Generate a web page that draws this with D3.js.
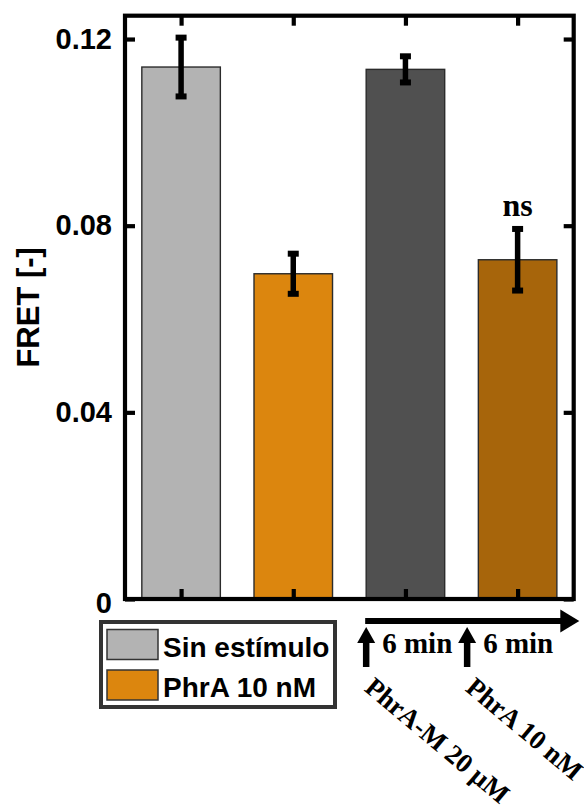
<!DOCTYPE html>
<html>
<head>
<meta charset="utf-8">
<script src="https://cdn.jsdelivr.net/npm/d3@7"></script>
<style>
  html, body { margin: 0; padding: 0; background: #fff; }
  svg { display: block; }
</style>
</head>
<body>
<svg id="chart" width="584" height="807"></svg>
<script>
// FRET readout per condition (mean ± error)
const conditions = ["Sin estímulo", "PhrA 10 nM", "PhrA-M 20 μM", "PhrA-M 20 μM + PhrA 10 nM"];
const fretMean = [0.1140, 0.0697, 0.1135, 0.0727];
const fretErr = [0.0063, 0.0043, 0.0028, 0.0066];
const barColors = ["#b3b3b3", "#dc860e", "#505050", "#a7650b"];
const significance = ["", "", "", "ns"];

const yTicks = [0, 0.04, 0.08, 0.12];
const yTickLabels = ["0", "0.04", "0.08", "0.12"];

const legendLabels = ["Sin estímulo", "PhrA 10 nM"];
const legendColors = ["#b3b3b3", "#dc860e"];

// stimulation timeline below the axis (positions in bar units)
const stimPositions = [2.65, 3.55];
const stimLabels = ["PhrA-M 20 μM", "PhrA 10 nM"];
const intervalLabels = ["6 min", "6 min"];
const timelineEnd = 4.55;

const svg = d3.select("#chart");

const x = d3.scaleLinear().domain([0.5, 4.5]).range([125, 573.7]);
const y = d3.scaleLinear().domain([0, 0.125]).range([599, 15.7]);
const barW = x(0.7) - x(0);

const sans = "'Liberation Sans', Arial, sans-serif";
const serif = "'Liberation Serif', 'Times New Roman', serif";

// bars
svg.append("g").selectAll("rect")
  .data(fretMean)
  .join("rect")
  .attr("x", (d, i) => x(i + 1) - barW / 2)
  .attr("y", d => y(d))
  .attr("width", barW)
  .attr("height", d => y(0) - y(d))
  .attr("fill", (d, i) => barColors[i])
  .attr("stroke", "#2b2b2b")
  .attr("stroke-width", 1.4);

// error bars
const eb = svg.append("g").attr("stroke", "#000");
fretMean.forEach((m, i) => {
  const cx = x(i + 1);
  const lo = y(m - fretErr[i]), hi = y(m + fretErr[i]);
  eb.append("line").attr("x1", cx).attr("x2", cx).attr("y1", lo).attr("y2", hi).attr("stroke-width", 5.5);
  [lo, hi].forEach(v => {
    eb.append("line").attr("x1", cx - 5.5).attr("x2", cx + 5.5).attr("y1", v).attr("y2", v).attr("stroke-width", 6);
  });
});

// significance labels
svg.append("g").selectAll("text")
  .data(fretMean)
  .join("text")
  .attr("x", (d, i) => x(i + 1))
  .attr("y", (d, i) => y(d + fretErr[i]) - 13)
  .attr("text-anchor", "middle")
  .attr("font-family", serif)
  .attr("font-weight", "bold")
  .attr("font-size", 32)
  .text((d, i) => significance[i]);

// axes box with inward ticks on all four sides
const axisW = 4.2, tickLen = 10;
const axLeft = d3.axisLeft(y).tickValues(yTicks).tickFormat((d, i) => yTickLabels[i]).tickSizeInner(-tickLen).tickSizeOuter(0).tickPadding(13);
const axRight = d3.axisRight(y).tickValues(yTicks).tickFormat("").tickSizeInner(-tickLen).tickSizeOuter(0);
const catTicks = [1, 2, 3, 4];
const axBottom = d3.axisBottom(x).tickValues(catTicks).tickFormat("").tickSizeInner(-tickLen).tickSizeOuter(0);
const axTop = d3.axisTop(x).tickValues(catTicks).tickFormat("").tickSizeInner(-tickLen).tickSizeOuter(0);

function styleAxis(g) {
  g.select(".domain").remove();
  g.selectAll(".tick line").attr("stroke", "#000").attr("stroke-width", axisW);
  g.selectAll(".tick text").attr("fill", "#000").attr("font-family", sans).attr("font-weight", "bold").attr("font-size", 29);
}
svg.append("g").attr("transform", `translate(${x.range()[0]},0)`).call(axLeft).call(styleAxis);
svg.append("g").attr("transform", `translate(${x.range()[1]},0)`).call(axRight).call(styleAxis);
svg.append("g").attr("transform", `translate(0,${y.range()[0]})`).call(axBottom).call(styleAxis);
svg.append("g").attr("transform", `translate(0,${y.range()[1]})`).call(axTop).call(styleAxis);
svg.selectAll(".tick text").filter(function () { return this.textContent === "0"; }).attr("dy", "0.45em");

svg.append("rect")
  .attr("x", x.range()[0]).attr("y", y.range()[1])
  .attr("width", x.range()[1] - x.range()[0])
  .attr("height", y.range()[0] - y.range()[1])
  .attr("fill", "none").attr("stroke", "#000").attr("stroke-width", axisW);

// y axis title
svg.append("text")
  .attr("transform", `translate(39,${(y.range()[0] + y.range()[1]) / 2}) rotate(-90)`)
  .attr("text-anchor", "middle")
  .attr("font-family", sans).attr("font-weight", "bold").attr("font-size", 31)
  .text("FRET [-]");

// legend
const lg = svg.append("g").attr("transform", "translate(101,622)");
lg.append("rect").attr("width", 234).attr("height", 85)
  .attr("fill", "#fff").attr("stroke", "#333").attr("stroke-width", 4);
legendLabels.forEach((lab, i) => {
  const row = lg.append("g").attr("transform", `translate(6,${7.5 + i * 40.5})`);
  row.append("rect").attr("width", 51).attr("height", 30)
    .attr("fill", legendColors[i]).attr("stroke", "#333").attr("stroke-width", 1.5);
  row.append("text").attr("x", 56).attr("y", 27)
    .attr("font-family", sans).attr("font-weight", "bold").attr("font-size", 28)
    .text(lab);
});

// timeline: horizontal arrow, stimulation arrows and labels
const tl = svg.append("g");
const lineY = 621;
tl.append("line")
  .attr("x1", x(stimPositions[0]) - 1).attr("x2", x(timelineEnd) - 16)
  .attr("y1", lineY).attr("y2", lineY)
  .attr("stroke", "#000").attr("stroke-width", 6);
tl.append("path")
  .attr("d", `M${x(timelineEnd)},${lineY} L${x(timelineEnd) - 19},${lineY - 11.5} L${x(timelineEnd) - 19},${lineY + 11.5} Z`)
  .attr("fill", "#000");

stimPositions.forEach((p, i) => {
  const cx = x(p);
  tl.append("line").attr("x1", cx).attr("x2", cx).attr("y1", 667).attr("y2", 638)
    .attr("stroke", "#000").attr("stroke-width", 6.5);
  tl.append("path")
    .attr("d", `M${cx},627 L${cx - 9},643 L${cx + 9},643 Z`).attr("fill", "#000");
  tl.append("text")
    .attr("x", cx + 16).attr("y", 653)
    .attr("font-family", serif).attr("font-weight", "bold").attr("font-size", 29)
    .text(intervalLabels[i]);
  tl.append("text")
    .attr("transform", `translate(${cx - 3},690) rotate(40)`)
    .attr("font-family", serif).attr("font-weight", "bold").attr("font-size", 27)
    .text(stimLabels[i]);
});
</script>
</body>
</html>
